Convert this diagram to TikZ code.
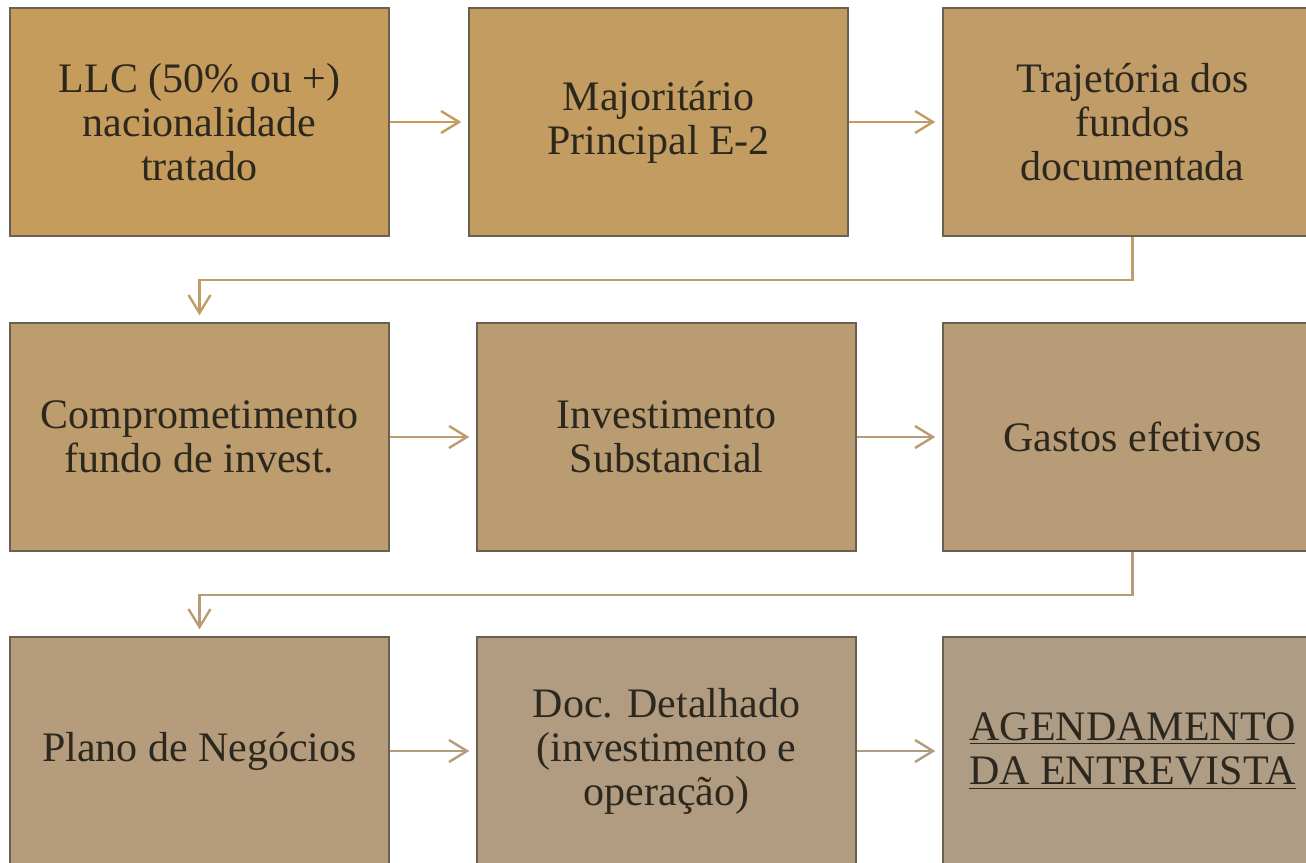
\documentclass[tikz,border=0pt]{standalone}
\usepackage{fontspec}
\setmainfont{Liberation Serif}
\usetikzlibrary{calc}
\usetikzlibrary{arrows.meta}

\definecolor{gold1}{RGB}{198,156,92}
\definecolor{gold2}{RGB}{195,156,98}
\definecolor{gold3}{RGB}{192,156,104}
\definecolor{gold4}{RGB}{189,156,109}
\definecolor{gold5}{RGB}{186,156,114}
\definecolor{gold6}{RGB}{183,156,119}
\definecolor{gold7}{RGB}{180,156,124}
\definecolor{gold8}{RGB}{177,156,129}
\definecolor{gold9}{RGB}{174,156,133}
\definecolor{boxline}{RGB}{105,96,80}
\definecolor{boxtext}{RGB}{45,40,30}

\tikzset{
  etapa/.style={draw=boxline, line width=0.7pt, minimum width=189.5pt, minimum height=114pt,
    inner sep=0pt, align=center, text=boxtext, font=\fontsize{21}{22}\selectfont},
  seta/.style={line width=1.2pt, -{Straight Barb[length=9pt,width=11pt]}, shorten >=3.5pt}
}

\begin{document}
\begin{tikzpicture}[x=0.5pt, y=-0.5pt]
\useasboundingbox (0,0) rectangle (1306,862);
\clip (0,0) rectangle (1306,862);

% first row
\node[etapa, fill=gold1] (llc) at (199.5,122) {LLC (50\% ou +)\\nacionalidade\\tratado};
\node[etapa, fill=gold2] (major) at (658.5,122) {Majoritário\\Principal E-2};
\node[etapa, fill=gold3] (traj) at (1132.5,122) {Trajetória dos\\fundos\\documentada};

% second row
\node[etapa, fill=gold4] (comp) at (199.5,437) {Comprometimento\\fundo de invest.};
\node[etapa, fill=gold5] (invest) at (666.5,437) {Investimento\\Substancial};
\node[etapa, fill=gold6] (gastos) at (1132.5,437) {Gastos efetivos};

% third row
\node[etapa, fill=gold7] (plano) at (199.5,751) {Plano de Negócios};
\node[etapa, fill=gold8] (doc) at (666.5,751) {Doc. Detalhado\\(investimento e\\operação)};
\node[etapa, fill=gold9] (agenda) at (1132.5,751) {\underline{AGENDAMENTO}\\\underline{DA ENTREVISTA}};

\draw[seta, gold1] (llc) -- (major);
\draw[seta, gold2] (major) -- (traj);
\draw[seta, gold3] (traj.south) -- ++(0,43) -| (comp.north);
\draw[seta, gold4] (comp) -- (invest);
\draw[seta, gold5] (invest) -- (gastos);
\draw[seta, gold6] (gastos.south) -- ++(0,43) -| (plano.north);
\draw[seta, gold7] (plano) -- (doc);
\draw[seta, gold8] (doc) -- (agenda);

\end{tikzpicture}
\end{document}
